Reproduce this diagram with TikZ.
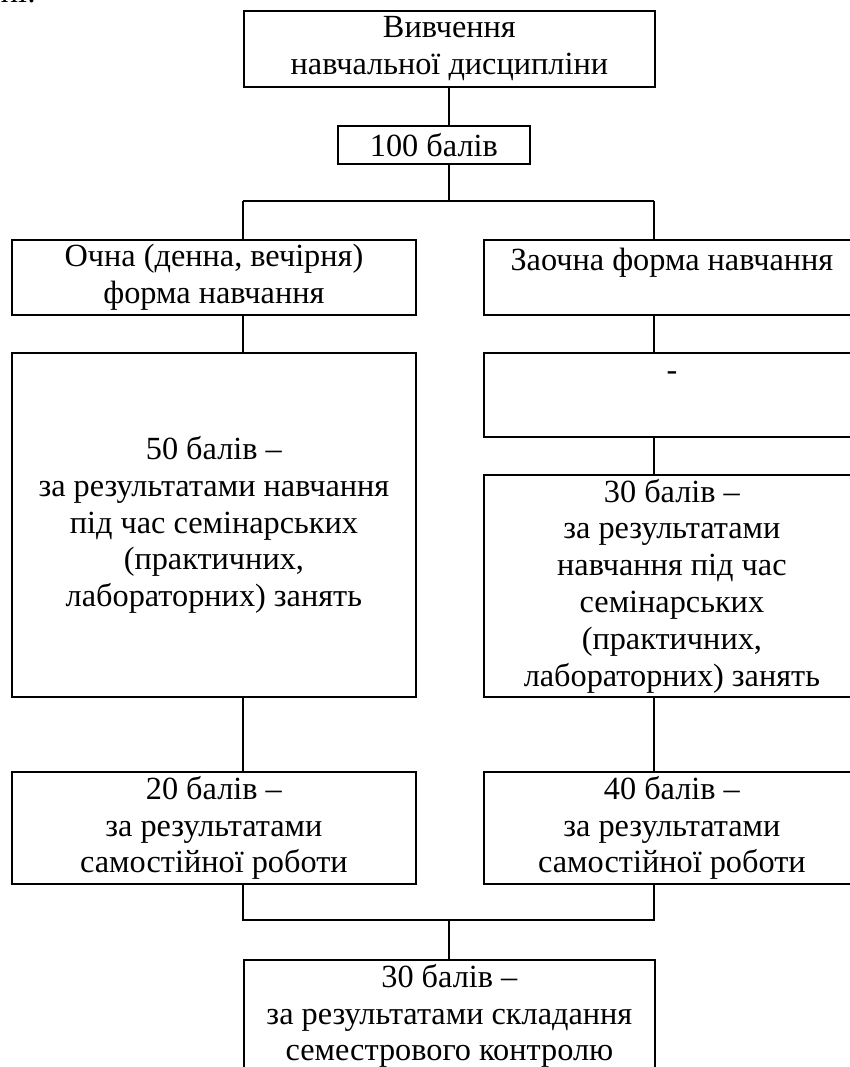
\documentclass[tikz,border=0pt]{standalone}
\usepackage{fontspec}
\setmainfont{Liberation Serif}

\begin{document}
\begin{tikzpicture}[x=1pt, y=-1pt, line width=1.8pt,
	txt/.style={font=\fontsize{32.3}{36.8}\selectfont},
	box/.style={txt, draw, inner sep=0pt, align=center, anchor=north west}]
	\useasboundingbox (0, 0) rectangle (849, 1067); % Explicit bounding box
	\node[txt, anchor=base west, inner sep=0pt] (prev) at (0, 3) {ні:};
	\node[box, minimum width=411pt, minimum height=76pt] (study) at (243, 10) {Вивчення\\навчальної дисципліни};
	\node[box, minimum width=192pt, minimum height=38pt] (points) at (337, 125) {100 балів};
	\node[box, minimum width=404pt, minimum height=75pt] (full) at (11, 239) {Очна (денна, вечірня)\\форма навчання};
	\node[box, minimum width=376pt, minimum height=75pt] (part) at (483, 239) {Заочна форма навчання\\\mbox{}};
	\node[box, minimum width=404pt, minimum height=344pt] (full50) at (11, 352) {50 балів --\\за результатами навчання\\під час семінарських\\(практичних,\\лабораторних) занять};
	\node[box, minimum width=376pt, minimum height=84pt] (dash) at (483, 352) {-\\\mbox{}};
	\node[box, minimum width=376pt, minimum height=222pt] (part30) at (483, 474) {30 балів --\\за результатами\\навчання під час\\семінарських\\(практичних,\\лабораторних) занять};
	\node[box, minimum width=404pt, minimum height=112pt] (full20) at (11, 771) {20 балів --\\за результатами\\самостійної роботи};
	\node[box, minimum width=376pt, minimum height=112pt] (part40) at (483, 771) {40 балів --\\за результатами\\самостійної роботи};
	\node[box, minimum width=411pt, minimum height=112pt] (exam) at (243, 959) {30 балів --\\за результатами складання\\семестрового контролю};
	\coordinate (fork) at (449, 201);
	\coordinate (forkL) at (243, 201);
	\coordinate (forkR) at (654, 201);
	\coordinate (join) at (449, 920);
	\coordinate (joinL) at (243, 920);
	\coordinate (joinR) at (654, 920);
	\draw (study.south -| fork) -- (fork |- points.north);
	\draw (points.south -| fork) -- (fork);
	\draw (forkL) -- (forkR);
	\draw (forkL) -- (forkL |- full.north);
	\draw (forkR) -- (forkR |- part.north);
	\draw (full.south -| forkL) -- (forkL |- full50.north);
	\draw (part.south -| forkR) -- (forkR |- dash.north);
	\draw (dash.south -| forkR) -- (forkR |- part30.north);
	\draw (full50.south -| forkL) -- (forkL |- full20.north);
	\draw (part30.south -| forkR) -- (forkR |- part40.north);
	\draw (full20.south -| joinL) -- (joinL) -- (joinR) -- (part40.south -| joinR);
	\draw (join) -- (join |- exam.north);
\end{tikzpicture}
\end{document}
